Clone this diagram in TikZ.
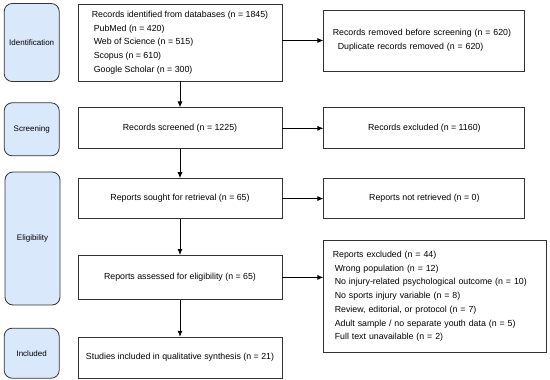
\documentclass[tikz,border=0pt]{standalone}
\usepackage{fontspec}
\setmainfont{Liberation Sans}
\usepackage{xcolor}
\usetikzlibrary{arrows.meta, positioning}
\definecolor{stagefill}{HTML}{DAE8FC}
\definecolor{edge}{HTML}{333333}

\begin{document}
\begin{tikzpicture}[node distance=26pt, >={Latex[length=6pt,width=5pt]}, x=1pt, y=1pt]
    \tikzstyle{block} = [rectangle, draw=edge, line width=0.8pt, minimum width=204pt,
                         font=\fontsize{8.8}{13.7}\selectfont, align=center]
    \tikzstyle{side} = [block, minimum width=201pt]
    \tikzstyle{stage} = [rectangle, draw=edge, line width=0.8pt, fill=stagefill,
                         rounded corners=8pt, minimum width=55pt,
                         font=\fontsize{8}{10}\selectfont]
    \tikzstyle{line} = [draw=black, ->, line width=0.8pt]

    \useasboundingbox (0,0) rectangle (550,-380);

    % main column
    \node [block, minimum height=77pt, align=left] (ident) at (180,-42.5) {
        Records identified from databases (n = 1845)\\
        \hspace*{2pt}PubMed (n = 420)\\
        \hspace*{2pt}Web of Science (n = 515)\\
        \hspace*{2pt}Scopus (n = 610)\\
        \hspace*{2pt}Google Scholar (n = 300)
    };
    \node [block, minimum height=41pt, below=26pt of ident] (screen) {Records screened (n = 1225)};
    \node [block, minimum height=40pt, below=29pt of screen] (sought) {Reports sought for retrieval (n = 65)};
    \node [block, minimum height=44pt, below=36pt of sought] (assess) {Reports assessed for eligibility (n = 65)};
    \node [block, minimum height=41pt, below=37pt of assess] (incl) {Studies included in qualitative synthesis (n = 21)};

    % exclusions
    \node [side, minimum height=61pt, align=left, text width=183pt, right=41pt of ident, yshift=2pt] (removed) {
        Records removed before screening (n = 620)\\
        \hspace*{5pt}Duplicate records removed (n = 620)
    };
    \node [side, minimum height=41pt, right=41pt of screen] (excl) {Records excluded (n = 1160)};
    \node [side, minimum height=40pt, right=41pt of sought] (notret) {Reports not retrieved (n = 0)};
    \node [side, minimum width=223pt, minimum height=112pt, align=left, text width=205pt,
           right=41pt of assess, yshift=-19pt] (rexcl) {
        Reports excluded (n = 44)\\
        \hspace*{2pt}Wrong population (n = 12)\\
        \hspace*{2pt}No injury-related psychological outcome (n = 10)\\
        \hspace*{2pt}No sports injury variable (n = 8)\\
        \hspace*{2pt}Review, editorial, or protocol (n = 7)\\
        \hspace*{2pt}Adult sample / no separate youth data (n = 5)\\
        \hspace*{2pt}Full text unavailable (n = 2)
    };

    % stages
    \node [stage, minimum height=78pt, left=18pt of ident] (sIdent) {Identification};
    \node [stage, minimum height=53pt, left=18pt of screen, yshift=-1pt] (sScreen) {Screening};
    \node [stage, minimum height=133pt] (sElig) at (32.5,-238.5) {Eligibility};
    \node [stage, minimum height=50pt, left=18pt of incl, yshift=4.5pt] (sIncl) {Included};

    % arrows
    \draw [line] (ident) -- (screen);
    \draw [line] (screen) -- (sought);
    \draw [line] (sought) -- (assess);
    \draw [line] (assess) -- (incl);
    \draw [line] (ident.east |- removed.west) -- (removed.west);
    \draw [line] (screen) -- (excl);
    \draw [line] (sought) -- (notret);
    \draw [line] (assess.east) -- (assess.east -| rexcl.west);
\end{tikzpicture}
\end{document}
